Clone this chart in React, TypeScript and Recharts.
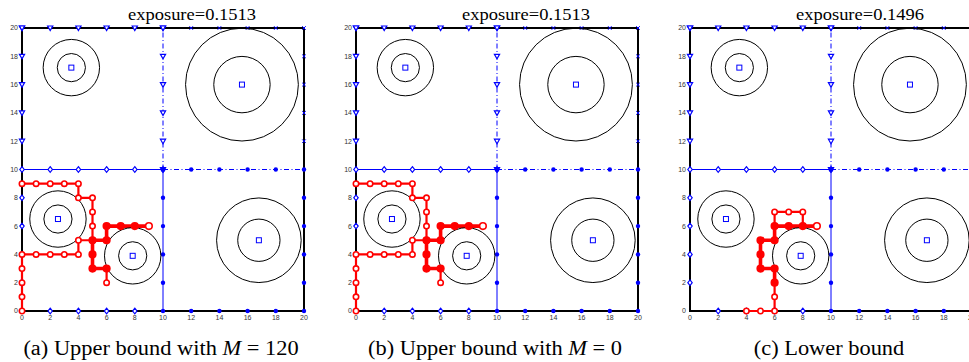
import React from 'react';
import { ComposedChart, Line, Scatter, XAxis, YAxis, ReferenceArea } from 'recharts';

type Pt = { x: number; y: number };
type Ring = { x: number; y: number; rIn: number; rOut: number };

const axisTicks = [0, 2, 4, 6, 8, 10, 12, 14, 16, 18, 20];

// blue cell boundaries of the 2x2 decomposition
const tlTop: Pt[] = [{ x: 0, y: 20 }, { x: 2, y: 20 }, { x: 4, y: 20 }, { x: 6, y: 20 }, { x: 8, y: 20 }, { x: 10, y: 20 }];
const tlLeft: Pt[] = [{ x: 0, y: 12 }, { x: 0, y: 14 }, { x: 0, y: 16 }, { x: 0, y: 18 }, { x: 0, y: 20 }];
const tlMid: Pt[] = [{ x: 10, y: 10 }, { x: 10, y: 12 }, { x: 10, y: 14 }, { x: 10, y: 16 }, { x: 10, y: 18 }, { x: 10, y: 20 }];
const blMid: Pt[] = [{ x: 0, y: 10 }, { x: 2, y: 10 }, { x: 4, y: 10 }, { x: 6, y: 10 }, { x: 8, y: 10 }, { x: 10, y: 10 }];
const blLeft: Pt[] = [{ x: 0, y: 2 }, { x: 0, y: 4 }, { x: 0, y: 6 }, { x: 0, y: 8 }];
const blBottom: Pt[] = [{ x: 2, y: 0 }, { x: 4, y: 0 }, { x: 6, y: 0 }, { x: 8, y: 0 }];
const brMid: Pt[] = [{ x: 10, y: 0 }, { x: 10, y: 2 }, { x: 10, y: 4 }, { x: 10, y: 6 }, { x: 10, y: 8 }, { x: 10, y: 10 }];
const brMidH: Pt[] = [{ x: 10, y: 10 }, { x: 12, y: 10 }, { x: 14, y: 10 }, { x: 16, y: 10 }, { x: 18, y: 10 }, { x: 20, y: 10 }];
const brBottom: Pt[] = [{ x: 12, y: 0 }, { x: 14, y: 0 }, { x: 16, y: 0 }, { x: 18, y: 0 }, { x: 20, y: 0 }];
const brRight: Pt[] = [{ x: 20, y: 2 }, { x: 20, y: 4 }, { x: 20, y: 6 }, { x: 20, y: 8 }];
const trTop: Pt[] = [{ x: 12, y: 20 }, { x: 14, y: 20 }, { x: 16, y: 20 }, { x: 18, y: 20 }, { x: 20, y: 20 }];
const trRight: Pt[] = [{ x: 20, y: 12 }, { x: 20, y: 14 }, { x: 20, y: 16 }, { x: 20, y: 18 }];

// sensing regions: centre + inner/outer radius
const rings: Ring[] = [
  { x: 3.5, y: 17.2, rIn: 1, rOut: 2 },
  { x: 15.6, y: 16, rIn: 2, rOut: 4 },
  { x: 2.55, y: 6.5, rIn: 1, rOut: 2 },
  { x: 7.85, y: 3.9, rIn: 1, rOut: 2 },
  { x: 16.8, y: 5, rIn: 1.5, rOut: 3 },
];

// red paths, upper bound (a) and (b)
const upperLow: Pt[] = [{ x: 0, y: 0 }, { x: 0, y: 1 }, { x: 0, y: 2 }, { x: 0, y: 3 }, { x: 0, y: 4 }, { x: 1, y: 4 }, { x: 2, y: 4 }, { x: 3, y: 4 }, { x: 4, y: 4 }, { x: 4, y: 5 }, { x: 5, y: 5 }];
const upperHigh: Pt[] = [{ x: 0, y: 9 }, { x: 1, y: 9 }, { x: 2, y: 9 }, { x: 3, y: 9 }, { x: 4, y: 9 }, { x: 4, y: 8 }, { x: 5, y: 8 }, { x: 5, y: 7 }, { x: 5, y: 6 }, { x: 5, y: 5 }];
const upperTail: Pt[] = [{ x: 6, y: 3 }, { x: 6, y: 2 }];
const upperShared: Pt[] = [{ x: 6, y: 3 }, { x: 5, y: 3 }, { x: 5, y: 4 }, { x: 5, y: 5 }, { x: 6, y: 5 }, { x: 6, y: 6 }, { x: 7, y: 6 }, { x: 8, y: 6 }, { x: 9, y: 6 }];

// red paths, lower bound (c)
const lowerStart: Pt[] = [{ x: 4, y: 0 }, { x: 5, y: 0 }, { x: 6, y: 0 }, { x: 6, y: 1 }, { x: 6, y: 2 }];
const lowerLoop: Pt[] = [{ x: 6, y: 6 }, { x: 6, y: 7 }, { x: 7, y: 7 }, { x: 8, y: 7 }, { x: 8, y: 6 }];
const lowerShared: Pt[] = [{ x: 6, y: 2 }, { x: 6, y: 3 }, { x: 5, y: 3 }, { x: 5, y: 4 }, { x: 5, y: 5 }, { x: 6, y: 5 }, { x: 6, y: 6 }, { x: 7, y: 6 }, { x: 8, y: 6 }, { x: 9, y: 6 }];

const BLUE = '#0000ff';
const RED = '#ff0000';
const DASHDOT = '5 2.5 1 2.5';
const PLOT = 282;
const UNIT = PLOT / 20;

const blueSeries = [
  { pts: tlTop, mark: 'tri', line: 'none' },
  { pts: tlLeft, mark: 'tri', line: 'none' },
  { pts: tlMid, mark: 'tri', line: 'dashdot' },
  { pts: blMid, mark: 'diamond', line: 'solid' },
  { pts: blLeft, mark: 'diamond', line: 'none' },
  { pts: blBottom, mark: 'diamond', line: 'none' },
  { pts: brMid, mark: 'dot', line: 'solid' },
  { pts: brMidH, mark: 'dot', line: 'dashdot' },
  { pts: brBottom, mark: 'dot', line: 'none' },
  { pts: brRight, mark: 'dot', line: 'none' },
  { pts: trTop, mark: 'x', line: 'none' },
  { pts: trRight, mark: 'x', line: 'none' },
];

const marker = (kind: string, cx: number, cy: number, key: string) => {
  if (kind === 'tri')
    return <path key={key} d={`M${cx - 2.6},${cy - 2} L${cx + 2.6},${cy - 2} L${cx},${cy + 2.6} Z`} fill="#fff" stroke={BLUE} strokeWidth={1.2} />;
  if (kind === 'diamond')
    return <path key={key} d={`M${cx},${cy - 2.8} L${cx + 2.2},${cy} L${cx},${cy + 2.8} L${cx - 2.2},${cy} Z`} fill="#fff" stroke={BLUE} strokeWidth={1.2} />;
  if (kind === 'dot') return <circle key={key} cx={cx} cy={cy} r={2.2} fill={BLUE} />;
  if (kind === 'x')
    return <path key={key} d={`M${cx - 1.8},${cy - 1.8} L${cx + 1.8},${cy + 1.8} M${cx - 1.8},${cy + 1.8} L${cx + 1.8},${cy - 1.8}`} stroke={BLUE} strokeWidth={1} />;
  return <g key={key} />;
};

const RingShape = (p: any) => {
  const d = p.payload as Ring;
  return (
    <g>
      <circle cx={p.cx} cy={p.cy} r={d.rOut * UNIT} fill="none" stroke="#000" strokeWidth={1} />
      <circle cx={p.cx} cy={p.cy} r={d.rIn * UNIT} fill="none" stroke="#000" strokeWidth={1} />
      <rect x={p.cx - 2.5} y={p.cy - 2.5} width={5} height={5} fill="#fff" stroke={BLUE} strokeWidth={1} />
    </g>
  );
};

type RedPath = { pts: Pt[]; thick: boolean };

interface PanelProps {
  left: number;
  title: string;
  caption: React.ReactNode;
  paths: RedPath[];
}

const tickStyle = { fontSize: 7, fill: '#333', fontFamily: 'Liberation Sans, Arial, sans-serif' };

const Panel = ({ left, title, caption, paths }: PanelProps) => (
  <div style={{ position: 'absolute', left, top: 0, width: 320, height: 362 }}>
    <div
      style={{
        position: 'absolute', left: 92, top: 6, width: 200, textAlign: 'center',
        fontFamily: 'Liberation Serif, Times New Roman, serif', fontSize: 16.5, lineHeight: '18px',
        transform: 'scaleX(1.12)', color: '#000', whiteSpace: 'nowrap',
      }}
    >
      {title}
    </div>
    <ComposedChart width={320} height={331} margin={{ top: 28, right: 16, bottom: 0, left: 8 }}>
      <XAxis dataKey="x" type="number" domain={[0, 20]} ticks={axisTicks} tickLine={false} tickSize={2}
        axisLine={false} height={20} tick={tickStyle} interval={0} />
      <YAxis dataKey="y" type="number" domain={[0, 20]} ticks={axisTicks} tickLine={false} tickSize={2}
        axisLine={false} width={14} tick={tickStyle} interval={0} />
      <ReferenceArea x1={0} x2={20} y1={0} y2={20} fill="none" fillOpacity={0} stroke="#000" strokeWidth={2} />
      {blueSeries.map((s, i) => (
        <Line key={`b${i}`} data={s.pts} dataKey="y" type="linear" isAnimationActive={false}
          stroke={s.line === 'none' ? 'none' : BLUE} strokeWidth={1}
          strokeDasharray={s.line === 'dashdot' ? DASHDOT : undefined}
          dot={(p: any) => marker(s.mark, p.cx, p.cy, `b${i}-${p.index}`)} activeDot={false} />
      ))}
      <Scatter data={rings} dataKey="y" shape={RingShape} isAnimationActive={false} />
      {paths.map((s, i) => (
        <Line key={`r${i}`} data={s.pts} dataKey="y" type="linear" isAnimationActive={false}
          stroke={RED} strokeWidth={s.thick ? 3.6 : 2.2} activeDot={false}
          dot={(p: any) => {
            const open = !s.thick || p.index === s.pts.length - 1;
            return (
              <circle key={`r${i}-${p.index}`} cx={p.cx} cy={p.cy} r={s.thick ? 3.3 : 2.7}
                fill={open ? '#fff' : RED} stroke={RED} strokeWidth={1.6} />
            );
          }} />
      ))}
    </ComposedChart>
    <div
      style={{
        position: 'absolute', left: 11, top: 337, width: 300, textAlign: 'center',
        fontFamily: 'Liberation Serif, Times New Roman, serif', fontSize: 20, lineHeight: '22px',
        transform: 'scaleX(1.12)', color: '#000', whiteSpace: 'nowrap',
      }}
    >
      {caption}
    </div>
  </div>
);

const upperPaths: RedPath[] = [
  { pts: upperLow, thick: false },
  { pts: upperHigh, thick: false },
  { pts: upperTail, thick: false },
  { pts: upperShared, thick: true },
];

const lowerPaths: RedPath[] = [
  { pts: lowerStart, thick: false },
  { pts: lowerLoop, thick: false },
  { pts: lowerShared, thick: true },
];

const App = () => (
  <div style={{ position: 'absolute', left: 0, top: 0, width: 969, height: 362, overflow: 'hidden', background: '#fff' }}>
    <Panel left={0} title="exposure=0.1513" paths={upperPaths}
      caption={<>(a) Upper bound with <i>M</i> = 120</>} />
    <Panel left={334} title="exposure=0.1513" paths={upperPaths}
      caption={<>(b) Upper bound with <i>M</i> = 0</>} />
    <Panel left={668} title="exposure=0.1496" paths={lowerPaths}
      caption={<>(c) Lower bound</>} />
  </div>
);

export default App;
